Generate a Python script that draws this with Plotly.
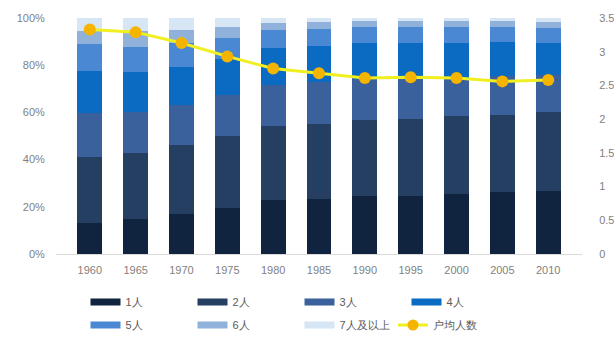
import plotly.graph_objects as go

years = ["1960", "1965", "1970", "1975", "1980", "1985", "1990", "1995", "2000", "2005", "2010"]
p1 = [13.1, 15.0, 17.1, 19.6, 22.7, 23.5, 24.6, 24.7, 25.5, 26.2, 26.6]
p2 = [27.8, 27.7, 28.9, 30.6, 31.4, 31.4, 32.2, 32.6, 32.8, 32.9, 33.5]
p3 = [18.9, 17.5, 17.3, 17.0, 17.5, 17.8, 17.3, 16.8, 16.4, 16.3, 15.9]
p4 = [17.6, 17.0, 15.8, 15.6, 15.7, 15.5, 15.5, 15.4, 14.7, 14.4, 13.6]
p5 = [11.5, 10.6, 10.4, 8.7, 7.5, 7.2, 6.7, 6.8, 6.8, 6.4, 6.3]
p6 = [5.7, 6.5, 5.6, 4.5, 3.1, 2.7, 2.4, 2.3, 2.4, 2.4, 2.4]
p7 = [5.4, 5.7, 4.9, 4.0, 2.1, 1.9, 1.3, 1.4, 1.4, 1.4, 1.7]
avg_size = [3.33, 3.29, 3.13, 2.93, 2.75, 2.68, 2.61, 2.62, 2.61, 2.56, 2.58]

series_names = ["1人", "2人", "3人", "4人", "5人", "6人", "7人及以上"]
series_vals = [p1, p2, p3, p4, p5, p6, p7]
colors = ["#10243f", "#253f63", "#3a619b", "#0b6bc3", "#4b88d4", "#90b1da", "#d6e6f4"]
line_name = "户均人数"

fig = go.Figure()
for name, vals, col in zip(series_names, series_vals, colors):
    fig.add_trace(go.Bar(x=years, y=vals, name=name, marker=dict(color=col, line=dict(width=0)),
                         showlegend=False))

fig.add_trace(go.Scatter(x=years, y=avg_size, name=line_name, yaxis="y2", mode="lines+markers",
                         line=dict(color="#f0f020", width=3),
                         marker=dict(color="#f5b400", size=12), showlegend=False))

# legend entries: first row in legend, second row in legend2, last item in legend3
for i, (name, col) in enumerate(zip(series_names, colors)):
    fig.add_trace(go.Scatter(x=[None], y=[None], name=name, mode="lines",
                             line=dict(color=col, width=7), showlegend=True,
                             legend="legend" if i < 4 else "legend2"))
fig.add_trace(go.Scatter(x=[None], y=[None], name=line_name, mode="lines+markers",
                         line=dict(color="#f0f020", width=3),
                         marker=dict(color="#f5b400", size=11), showlegend=True,
                         legend="legend3"))

leg_common = dict(orientation="h", xanchor="left", yanchor="middle",
                  xref="container", yref="container",
                  entrywidth=62, entrywidthmode="pixels", traceorder="normal",
                  font=dict(size=11, color="#595959"), itemwidth=30,
                  bgcolor="rgba(0,0,0,0)")

fig.update_layout(
    width=614, height=341,
    margin=dict(l=56, r=32, t=18, b=87, autoexpand=False),
    barmode="stack", bargap=0.46,
    plot_bgcolor="white", paper_bgcolor="white",
    font=dict(family="Liberation Sans, Arial, sans-serif", size=11, color="#7f7f7f"),
    xaxis=dict(showgrid=False, showline=True, linecolor="#d9d9d9", linewidth=1, automargin=False,
               ticks="outside", ticklen=6, tickcolor="rgba(0,0,0,0)",
               tickfont=dict(size=11, color="#7f7f7f")),
    yaxis=dict(range=[0, 100], tickvals=[0, 20, 40, 60, 80, 100],
               ticktext=["0%", "20%", "40%", "60%", "80%", "100%"], automargin=False,
               showgrid=False, zeroline=False, ticks="outside", ticklen=8,
               tickcolor="rgba(0,0,0,0)", tickfont=dict(size=11, color="#7f7f7f")),
    yaxis2=dict(range=[0, 3.5], tickvals=[0, 0.5, 1, 1.5, 2, 2.5, 3, 3.5],
                ticktext=["0", "0.5", "1", "1.5", "2", "2.5", "3", "3.5"], automargin=False,
                overlaying="y", side="right", showgrid=False, zeroline=False,
                ticks="outside", ticklen=14, tickcolor="rgba(0,0,0,0)",
                tickfont=dict(size=11, color="#7f7f7f")),
    legend=dict(x=85.5 / 614, y=1 - 302 / 341, **leg_common),
    legend2=dict(x=85.5 / 614, y=1 - 325 / 341, **leg_common),
    legend3=dict(x=393 / 614, y=1 - 325 / 341, **leg_common),
)

fig.write_html("out.html")
